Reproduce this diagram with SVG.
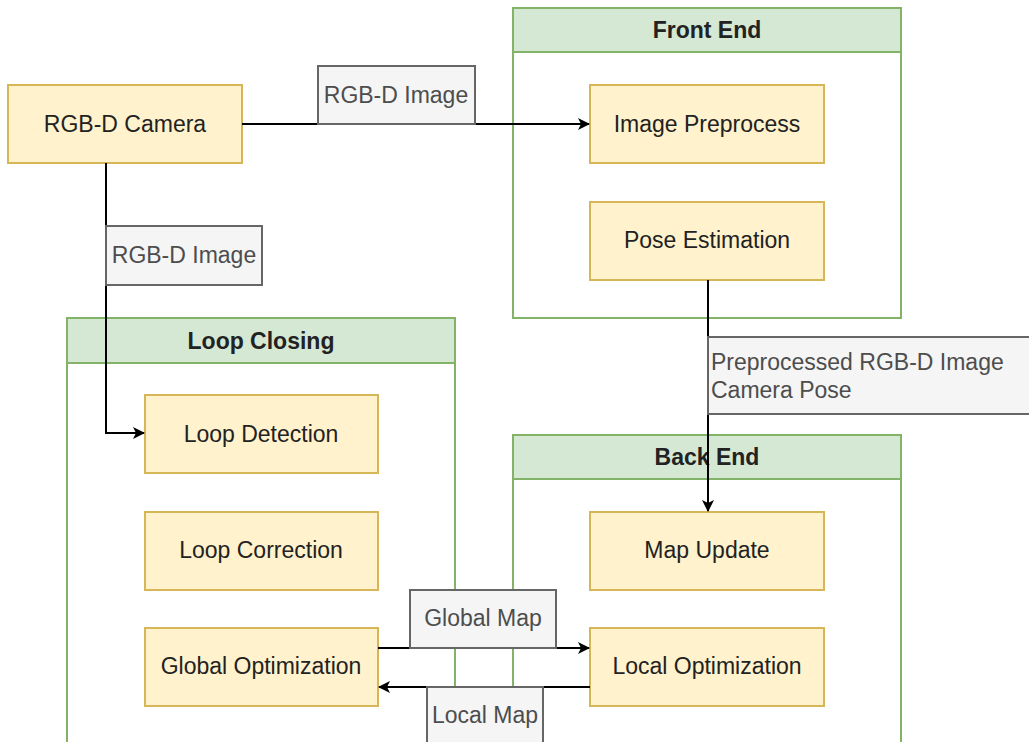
<svg xmlns="http://www.w3.org/2000/svg" width="1029" height="742" viewBox="0 0 1029 742">
  <defs>
    <marker id="arrow" viewBox="0 0 12 12" refX="11" refY="6" markerWidth="12" markerHeight="12" markerUnits="userSpaceOnUse" orient="auto">
      <path d="M0,0 L12,6 L0,12 L3,6 Z" fill="#000"/>
    </marker>
  </defs>
  <style>
    text { font-family: "Liberation Sans", Arial, sans-serif; font-size: 23px; text-anchor: middle; }
    .node rect { fill: #fff2cc; stroke: #d6b656; stroke-width: 2; }
    .node text { fill: #222; }
    .frame { fill: #fff; stroke: #82b366; stroke-width: 2; }
    .head { fill: #d5e8d4; stroke: #82b366; stroke-width: 2; }
    .title { font-weight: bold; fill: #222; }
    .edge { fill: none; stroke: #000; stroke-width: 2; }
    .lbl rect { fill: #f5f5f5; stroke: #666; stroke-width: 2; }
    .lbl text { fill: #4d4d4d; }
  </style>
  <rect width="1029" height="742" fill="#fff"/>

  <!-- containers -->
  <g id="front-end">
    <rect class="frame" x="513" y="8" width="388" height="310"/>
    <rect class="head" x="513" y="8" width="388" height="44"/>
    <text class="title" x="707" y="38">Front End</text>
  </g>
  <g id="loop-closing">
    <rect class="frame" x="67" y="318" width="388" height="450"/>
    <rect class="head" x="67" y="318" width="388" height="45"/>
    <text class="title" x="261" y="349">Loop Closing</text>
  </g>
  <g id="back-end">
    <rect class="frame" x="513" y="435" width="388" height="340"/>
    <rect class="head" x="513" y="435" width="388" height="44"/>
    <text class="title" x="707" y="465">Back End</text>
  </g>

  <!-- process nodes -->
  <g id="rgbd-camera" class="node">
    <rect x="8" y="85" width="234" height="78"/>
    <text x="125" y="132">RGB-D Camera</text>
  </g>
  <g id="image-preprocess" class="node">
    <rect x="590" y="85" width="234" height="78"/>
    <text x="707" y="132">Image Preprocess</text>
  </g>
  <g id="pose-estimation" class="node">
    <rect x="590" y="202" width="234" height="78"/>
    <text x="707" y="248">Pose Estimation</text>
  </g>
  <g id="loop-detection" class="node">
    <rect x="145" y="395" width="233" height="78"/>
    <text x="261" y="442">Loop Detection</text>
  </g>
  <g id="loop-correction" class="node">
    <rect x="145" y="512" width="233" height="78"/>
    <text x="261" y="558">Loop Correction</text>
  </g>
  <g id="global-optimization" class="node">
    <rect x="145" y="628" width="233" height="78"/>
    <text x="261" y="674">Global Optimization</text>
  </g>
  <g id="map-update" class="node">
    <rect x="590" y="512" width="234" height="78"/>
    <text x="707" y="558">Map Update</text>
  </g>
  <g id="local-optimization" class="node">
    <rect x="590" y="628" width="234" height="78"/>
    <text x="707" y="674">Local Optimization</text>
  </g>

  <!-- connectors -->
  <g id="connectors">
    <path class="edge" d="M242,124 H589" marker-end="url(#arrow)"/>
    <path class="edge" d="M106,163 V433 H144" marker-end="url(#arrow)"/>
    <path class="edge" d="M708,280 V511" marker-end="url(#arrow)"/>
    <path class="edge" d="M378,648 H589" marker-end="url(#arrow)"/>
    <path class="edge" d="M590,687 H379" marker-end="url(#arrow)"/>
  </g>

  <!-- connector labels -->
  <g id="labels">
    <g class="lbl">
      <rect x="318" y="66" width="157" height="58"/>
      <text x="396" y="103">RGB-D Image</text>
    </g>
    <g class="lbl">
      <rect x="106" y="226" width="156" height="59"/>
      <text x="184" y="263">RGB-D Image</text>
    </g>
    <g class="lbl">
      <rect x="708" y="337" width="340" height="77"/>
      <text x="711" y="370" style="text-anchor:start">Preprocessed RGB-D Image</text>
      <text x="711" y="398" style="text-anchor:start">Camera Pose</text>
    </g>
    <g class="lbl">
      <rect x="410" y="590" width="146" height="58"/>
      <text x="483" y="626">Global Map</text>
    </g>
    <g class="lbl">
      <rect x="427" y="687" width="116" height="70"/>
      <text x="485" y="723">Local Map</text>
    </g>
  </g>
</svg>
